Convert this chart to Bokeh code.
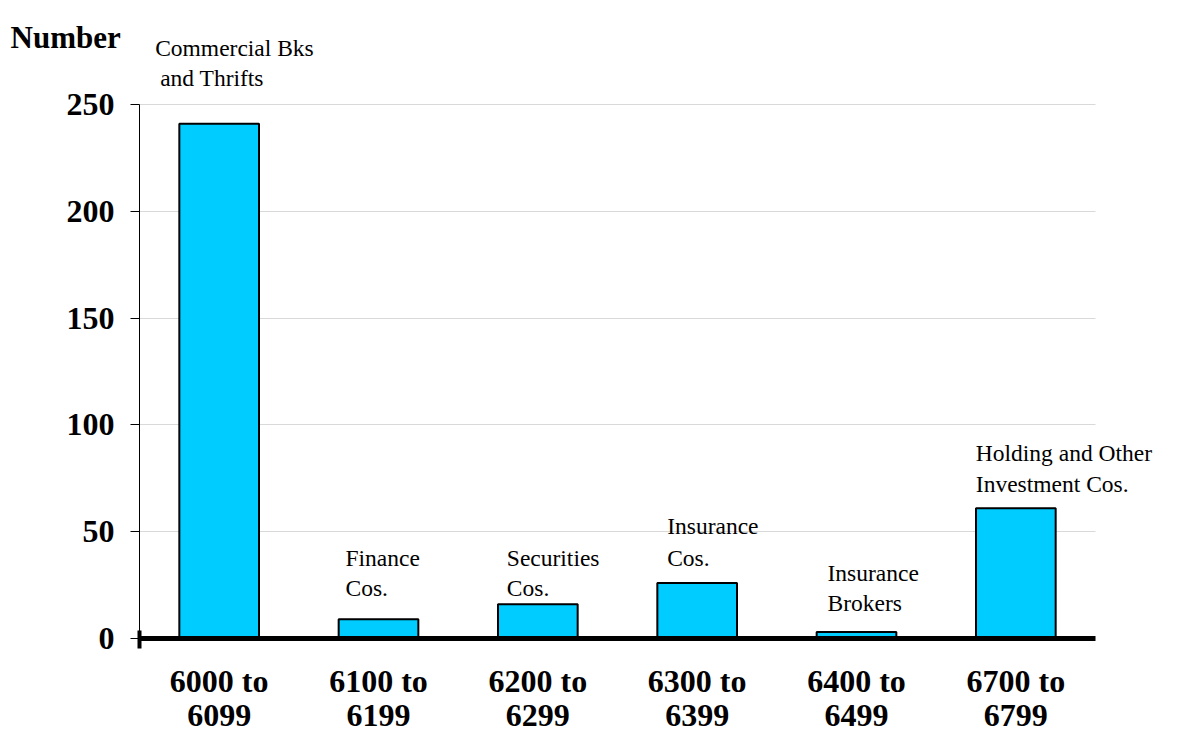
from bokeh.plotting import figure
from bokeh.models import Range1d, LinearAxis, FixedTicker
from bokeh.core.properties import value
from bokeh.embed import file_html
from bokeh.resources import INLINE

categories = ["6000 to\n6099", "6100 to\n6199", "6200 to\n6299",
              "6300 to\n6399", "6400 to\n6499", "6700 to\n6799"]
counts = [241, 9, 16, 26, 3, 61]
groups = [["Commercial Bks", "and Thrifts"], ["Finance", "Cos."],
          ["Securities", "Cos."], ["Insurance", "Cos."],
          ["Insurance", "Brokers"], ["Holding and Other", "Investment Cos."]]
y_ticks = [0, 50, 100, 150, 200, 250]
y_title = "Number"

FONT = "Liberation Serif"
W, H = 1180, 736
L, R, T, B = 139, 1095, 104, 638          # plot-area edges in pixels
n = len(categories)
YMAX = y_ticks[-1]
PX_X = (R - L) / n
PX_Y = (B - T) / YMAX

p = figure(width=W, height=H, min_border=0,
           x_range=Range1d(-L / PX_X, n + (W - R) / PX_X),
           y_range=Range1d(-(H - B) / PX_Y, YMAX + T / PX_Y),
           output_backend="svg", toolbar_location=None, outline_line_color=None,
           background_fill_color="white", border_fill_color="white")

xs = [i + 0.5 for i in range(n)]
p.vbar(x=xs, top=counts, width=0.5, fill_color="#00CCFF",
       line_color="black", line_width=2)

# grid
p.xgrid.visible = False
p.ygrid.ticker = FixedTicker(ticks=y_ticks)
p.ygrid.grid_line_color = "#d9d9d9"
try:
    p.ygrid.cross_bounds = (0, n)
    p.ygrid.bounds = (0, YMAX)
except Exception:
    p.ygrid.visible = False
    p.segment(x0=[0] * len(y_ticks[1:]), x1=[n] * len(y_ticks[1:]),
              y0=y_ticks[1:], y1=y_ticks[1:], line_color="#d9d9d9", level="underlay")

# axes
for ax in (p.xaxis, p.yaxis):
    ax.major_label_text_font = FONT
    ax.major_label_text_font_style = "bold"
    ax.major_label_text_font_size = "32px"
    ax.major_label_text_color = "black"
    ax.minor_tick_line_color = None

p.xaxis.fixed_location = 0
p.xaxis.bounds = (0, n)
p.xaxis.ticker = FixedTicker(ticks=xs)
p.xaxis.major_label_overrides = {x: c for x, c in zip(xs, categories)}
p.xaxis.axis_line_width = 5
p.xaxis.axis_line_color = "black"
p.xaxis.major_tick_line_color = None
p.xaxis.major_label_standoff = 18
p.xaxis.major_label_text_line_height = 0.95

p.yaxis.fixed_location = 0
p.yaxis.bounds = (0, YMAX)
p.yaxis.ticker = FixedTicker(ticks=y_ticks)
p.yaxis.axis_line_color = "black"
p.yaxis.axis_line_width = 1
p.yaxis.major_tick_line_color = "black"
p.yaxis.major_tick_in = 0
p.yaxis.major_tick_out = 9
p.yaxis.major_label_standoff = 16

# small heavy tick at the origin
origin_tick = LinearAxis(fixed_location=0, ticker=FixedTicker(ticks=[0]),
                         major_tick_in=8, major_tick_out=10, major_tick_line_width=4,
                         axis_line_color=None, minor_tick_line_color=None,
                         major_label_overrides={0: ""})
p.add_layout(origin_tick, "below")

# annotations (pixel offsets from bar centre / zero line)
x_offs = [(-64, -59), (-33, -33), (-31, -31), (-30, -30), (-29, -29), (-40, -40)]
y_offs = [(591, 561), (81, 51), (81, 51), (113, 81), (66, 36), (186, 155)]
ax_, ay_, at_ = [], [], []
for i, lines in enumerate(groups):
    for j, txt in enumerate(lines):
        ax_.append(xs[i] + x_offs[i][j] / PX_X)
        ay_.append(y_offs[i][j] / PX_Y)
        at_.append(txt)
p.text(x=ax_, y=ay_, text=at_, text_font=value(FONT), text_font_size="23.5px",
       text_color="black", text_baseline="alphabetic", text_align="left")

p.text(x=[(10 - L) / PX_X], y=[(B - 37) / PX_Y], text=[y_title], text_font=value(FONT),
       text_font_style="bold", text_font_size="31px", text_color="black",
       text_baseline="alphabetic", text_align="left")

open("out.html", "w").write(file_html(p, INLINE))
